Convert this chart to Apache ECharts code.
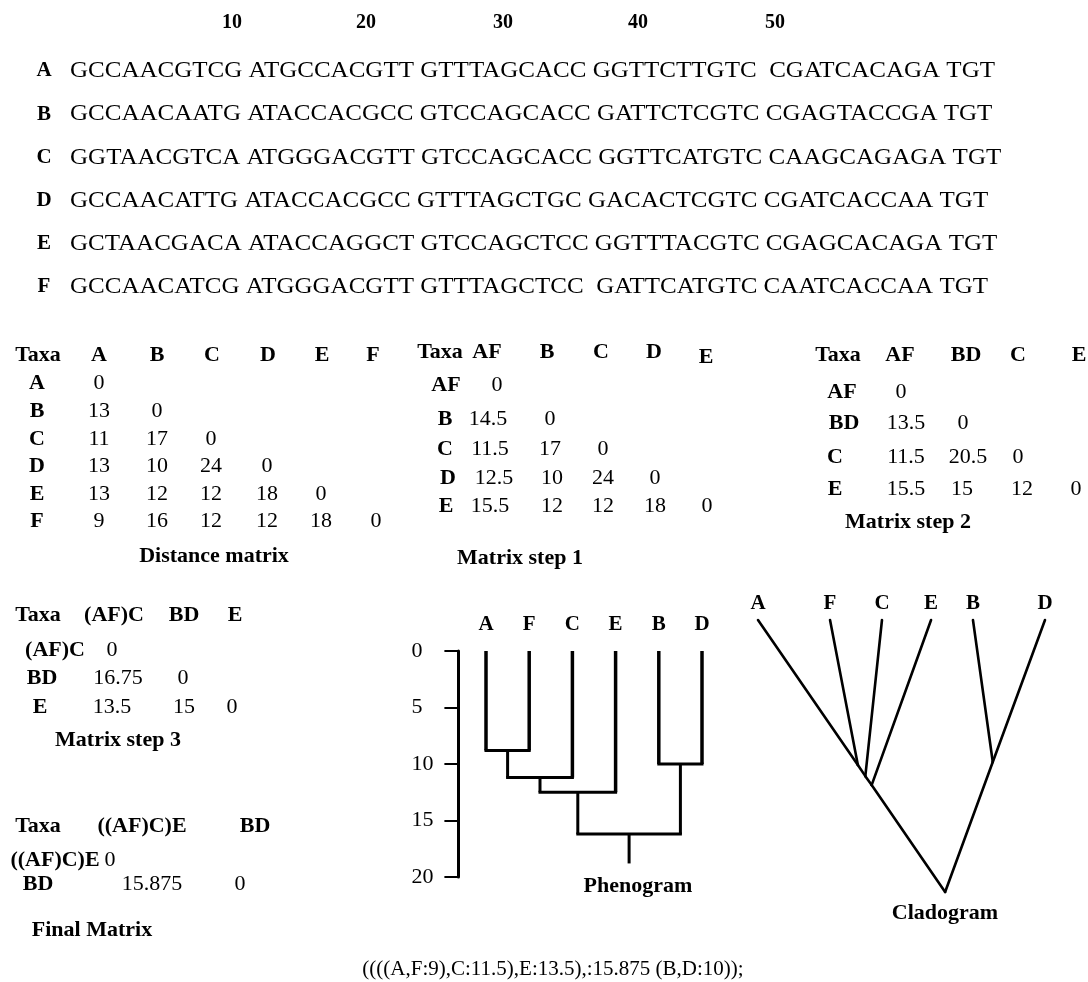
<!DOCTYPE html>
<html>
<head>
<meta charset="utf-8">
<script src="https://cdn.jsdelivr.net/npm/echarts@6/dist/echarts.min.js"></script>
<style>
html, body { margin: 0; background: #fff; }
#main { width: 1088px; height: 982px; }
</style>
</head>
<body>
<div id="main"></div>
<script>
// sequence alignment
const positionLabels = ['10', '20', '30', '40', '50']
const seqTaxa = ['A', 'B', 'C', 'D', 'E', 'F']
const sequences = [
    'GCCAACGTCG ATGCCACGTT GTTTAGCACC GGTTCTTGTC  CGATCACAGA TGT',
    'GCCAACAATG ATACCACGCC GTCCAGCACC GATTCTCGTC CGAGTACCGA TGT',
    'GGTAACGTCA ATGGGACGTT GTCCAGCACC GGTTCATGTC CAAGCAGAGA TGT',
    'GCCAACATTG ATACCACGCC GTTTAGCTGC GACACTCGTC CGATCACCAA TGT',
    'GCTAACGACA ATACCAGGCT GTCCAGCTCC GGTTTACGTC CGAGCACAGA TGT',
    'GCCAACATCG ATGGGACGTT GTTTAGCTCC  GATTCATGTC CAATCACCAA TGT',
]

// distance matrices (lower triangle)
const distTaxa = ['A', 'B', 'C', 'D', 'E', 'F']
const distValues = [[0], [13, 0], [11, 17, 0], [13, 10, 24, 0], [13, 12, 12, 18, 0], [9, 16, 12, 12, 18, 0]]
const step1Taxa = ['AF', 'B', 'C', 'D', 'E']
const step1Values = [[0], [14.5, 0], [11.5, 17, 0], [12.5, 10, 24, 0], [15.5, 12, 12, 18, 0]]
const step2Taxa = ['AF', 'BD', 'C', 'E']
const step2Values = [[0], [13.5, 0], [11.5, 20.5, 0], [15.5, 15, 12, 0]]
const step3Taxa = ['(AF)C', 'BD', 'E']
const step3Values = [[0], [16.75, 0], [13.5, 15, 0]]
const finalTaxa = ['((AF)C)E', 'BD']
const finalValues = [[0], [15.875, 0]]
const newick = '((((A,F:9),C:11.5),E:13.5),:15.875 (B,D:10));'

// phenogram: leaves along x, join heights on the y scale
const phenoLeaves = ['A', 'F', 'C', 'E', 'B', 'D']
const phenoNodes = [
    { id: 'AF', children: ['A', 'F'], height: 8.8 },
    { id: 'AFC', children: ['AF', 'C'], height: 11.2 },
    { id: 'AFCE', children: ['AFC', 'E'], height: 12.5 },
    { id: 'BD', children: ['B', 'D'], height: 10 },
    { id: 'root', children: ['AFCE', 'BD'], height: 16.2 },
]
const phenoStem = 18.8

// cladogram: tips and internal nodes in relative units (x 0-100, depth 0-100)
const cladoTips = ['A', 'F', 'C', 'E', 'B', 'D']
const cladoTipX = [0, 25.1, 43.2, 60.3, 74.9, 100]
const cladoNodes = {
    AF: [34.8, 53.3],
    AFC: [37.4, 57.4],
    AFCE: [39.6, 60.7],
    BD: [81.8, 52.2],
    root: [65.2, 100],
}
const cladoEdges = [
    ['A', 'AF'], ['F', 'AF'], ['AF', 'AFC'], ['C', 'AFC'], ['AFC', 'AFCE'],
    ['E', 'AFCE'], ['AFCE', 'root'], ['B', 'BD'], ['D', 'BD'], ['BD', 'root'],
]

const serif = '"Liberation Serif", "Times New Roman", serif'
const bold = (size) => 'bold ' + size + 'px ' + serif
const plain = (size) => size + 'px ' + serif

function txt(text, x, y, font, align) {
    return {
        type: 'text',
        x: x,
        y: y,
        style: {
            text: text,
            font: font,
            fill: '#000',
            align: align || 'center',
            verticalAlign: 'middle',
        },
    }
}

const measureCtx = document.createElement('canvas').getContext('2d')
function textWidth(text, font) {
    measureCtx.font = font
    return measureCtx.measureText(text).width
}

const elements = []

// header numbers + sequence rows (stretched to the row width of the figure)
const posX = [232, 366, 503, 638, 775]
positionLabels.forEach((p, i) => elements.push(txt(p, posX[i], 23, bold(20))))
const seqFont = plain(24)
seqTaxa.forEach((t, i) => {
    const y = 71 + i * 43.2
    elements.push(txt(t, 44, y, bold(21)))
    const el = txt(sequences[i], 70, y, seqFont, 'left')
    el.scaleX = 925 / textWidth(sequences[0], seqFont)
    elements.push(el)
})

// matrices
const mFont = 22
function matrix(cfg) {
    elements.push(txt('Taxa', cfg.taxaX, cfg.headerY, bold(mFont)))
    cfg.names.forEach((n, i) => {
        elements.push(txt(n, cfg.headX[i], cfg.headerY + (cfg.headDy ? cfg.headDy[i] : 0), bold(mFont)))
    })
    cfg.names.forEach((n, r) => {
        const y = cfg.rowY[r]
        elements.push(txt(n, cfg.labelX[r], y, bold(mFont)))
        cfg.values[r].forEach((v, c) => {
            elements.push(txt(String(v), cfg.colX[r][c], y, plain(mFont)))
        })
    })
    elements.push(txt(cfg.title, cfg.titleX, cfg.titleY, bold(mFont)))
}

matrix({
    names: distTaxa, values: distValues, taxaX: 38, headerY: 355,
    headX: [99, 157, 212, 268, 322, 373],
    rowY: [383, 411, 439, 466, 494, 521],
    labelX: [37, 37, 37, 37, 37, 37],
    colX: distValues.map(() => [99, 157, 211, 267, 321, 376]),
    title: 'Distance matrix', titleX: 214, titleY: 556,
})
matrix({
    names: step1Taxa, values: step1Values, taxaX: 440, headerY: 352,
    headX: [487, 547, 601, 654, 706], headDy: [0, 0, 0, 0, 5],
    rowY: [385, 419, 449, 478, 506],
    labelX: [446, 445, 445, 448, 446],
    colX: [[497], [488, 550], [490, 550, 603], [494, 552, 603, 655], [490, 552, 603, 655, 707]],
    title: 'Matrix step 1', titleX: 520, titleY: 558,
})
matrix({
    names: step2Taxa, values: step2Values, taxaX: 838, headerY: 355,
    headX: [900, 966, 1018, 1079],
    rowY: [392, 423, 457, 489],
    labelX: [842, 844, 835, 835],
    colX: [[901], [906, 963], [906, 968, 1018], [906, 962, 1022, 1076]],
    title: 'Matrix step 2', titleX: 908, titleY: 522,
})
matrix({
    names: step3Taxa, values: step3Values, taxaX: 38, headerY: 615,
    headX: [114, 184, 235],
    rowY: [650, 678, 707],
    labelX: [55, 42, 40],
    colX: [[112], [118, 183], [112, 184, 232]],
    title: 'Matrix step 3', titleX: 118, titleY: 740,
})
matrix({
    names: finalTaxa, values: finalValues, taxaX: 38, headerY: 826,
    headX: [142, 255],
    rowY: [860, 884],
    labelX: [55, 38],
    colX: [[110], [152, 240]],
    title: 'Final Matrix', titleX: 92, titleY: 930,
})
elements.push(txt(newick, 553, 969, plain(21)))
elements.push(txt('Phenogram', 638, 886, bold(22)))
elements.push(txt('Cladogram', 945, 913, bold(22)))

// phenogram geometry through the axes
const leafIndex = {}
phenoLeaves.forEach((l, i) => (leafIndex[l] = i))
const nodeX = Object.assign({}, leafIndex)
const nodeH = {}
phenoLeaves.forEach((l) => (nodeH[l] = 0))
phenoNodes.forEach((n) => {
    nodeX[n.id] = (nodeX[n.children[0]] + nodeX[n.children[1]]) / 2
    nodeH[n.id] = n.height
})
const phenoSegs = []
phenoNodes.forEach((n) => {
    const [a, b] = n.children
    phenoSegs.push([nodeX[a], nodeH[a], nodeX[a], n.height, phenoLeaves.includes(a) ? 3.5 : 3])
    phenoSegs.push([nodeX[b], nodeH[b], nodeX[b], n.height, phenoLeaves.includes(b) ? 3.5 : 3])
    phenoSegs.push([nodeX[a], n.height, nodeX[b], n.height, 3])
})
phenoSegs.push([nodeX.root, nodeH.root, nodeX.root, phenoStem, 3])

// cladogram geometry
const cladoPos = Object.assign({}, cladoNodes)
cladoTips.forEach((t, i) => (cladoPos[t] = [cladoTipX[i], 0]))
const cladoSegs = cladoEdges.map(([a, b]) => [cladoPos[a][0], cladoPos[a][1], cladoPos[b][0], cladoPos[b][1]])

const chart = echarts.init(document.getElementById('main'), null, { renderer: 'canvas' })
const option = {
    backgroundColor: '#fff',
    animation: false,
    grid: [
        { left: 464.4, top: 651, width: 259.2, height: 226 },
        { left: 758, top: 620, width: 287, height: 272 },
    ],
    xAxis: [
        {
            gridIndex: 0, type: 'category', position: 'top', data: phenoLeaves,
            axisLine: { show: false }, axisTick: { show: false }, splitLine: { show: false },
            axisLabel: { margin: 16, color: '#000', fontFamily: serif, fontWeight: 'bold', fontSize: 21 },
        },
        { gridIndex: 0, type: 'value', min: -0.5, max: 5.5, show: false },
        { gridIndex: 1, type: 'value', min: 0, max: 100, show: false },
    ],
    yAxis: [
        {
            gridIndex: 0, type: 'value', inverse: true, min: 0, max: 20, interval: 5, offset: 6,
            axisLine: { show: true, onZero: false, lineStyle: { color: '#000', width: 3 } },
            axisTick: { show: true, inside: false, length: 14, lineStyle: { color: '#000', width: 2 } },
            splitLine: { show: false },
            axisLabel: { margin: 47, align: 'left', color: '#000', fontFamily: serif, fontSize: 22 },
        },
        { gridIndex: 1, type: 'value', inverse: true, min: 0, max: 100, show: false },
    ],
    series: [
        {
            type: 'custom', xAxisIndex: 1, yAxisIndex: 0, data: phenoSegs, silent: true,
            renderItem: (params, api) => {
                const p1 = api.coord([api.value(0), api.value(1)])
                const p2 = api.coord([api.value(2), api.value(3)])
                const w = api.value(4)
                const cap = w / 2
                const horiz = p1[1] === p2[1]
                return {
                    type: 'line',
                    shape: horiz
                        ? { x1: p1[0] - cap, y1: p1[1], x2: p2[0] + cap, y2: p2[1] }
                        : { x1: p1[0], y1: p1[1], x2: p2[0], y2: p2[1] },
                    style: { stroke: '#000', lineWidth: w },
                }
            },
        },
        {
            type: 'custom', xAxisIndex: 2, yAxisIndex: 1, data: cladoSegs, silent: true,
            renderItem: (params, api) => {
                const p1 = api.coord([api.value(0), api.value(1)])
                const p2 = api.coord([api.value(2), api.value(3)])
                return {
                    type: 'line',
                    shape: { x1: p1[0], y1: p1[1], x2: p2[0], y2: p2[1] },
                    style: { stroke: '#000', lineWidth: 2.6, lineCap: 'round' },
                }
            },
        },
        {
            type: 'custom', xAxisIndex: 2, yAxisIndex: 1, silent: true,
            data: cladoTips.map((t, i) => [cladoTipX[i], 0]),
            renderItem: (params, api) => {
                const p = api.coord([api.value(0), api.value(1)])
                return {
                    type: 'text',
                    x: p[0],
                    y: p[1] - 16,
                    style: {
                        text: cladoTips[params.dataIndex], font: bold(21), fill: '#000',
                        align: 'center', verticalAlign: 'middle',
                    },
                }
            },
        },
    ],
    graphic: { elements: elements },
}
chart.setOption(option)
</script>
</body>
</html>
